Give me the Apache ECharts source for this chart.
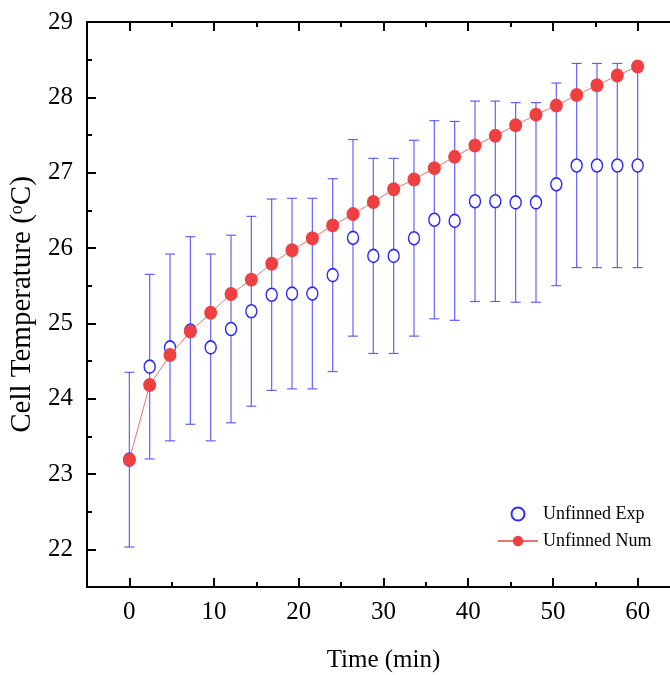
<!DOCTYPE html>
<html>
<head>
<meta charset="utf-8">
<script src="https://cdn.jsdelivr.net/npm/echarts@6/dist/echarts.min.js"></script>
<style>
html,body{margin:0;padding:0;background:#fff;}
#chart{width:670px;height:675px;}
</style>
</head>
<body>
<div id="chart"></div>
<script>
var time = [0, 2.4, 4.8, 7.2, 9.6, 12, 14.4, 16.8, 19.2, 21.6, 24, 26.4, 28.8, 31.2, 33.6, 36, 38.4, 40.8, 43.2, 45.6, 48, 50.4, 52.8, 55.2, 57.6, 60];
var numTemp = [23.19, 24.18, 24.58, 24.89, 25.14, 25.39, 25.58, 25.79, 25.97, 26.13, 26.30, 26.45, 26.61, 26.78, 26.91, 27.06, 27.21, 27.36, 27.49, 27.63, 27.77, 27.89, 28.03, 28.16, 28.29, 28.41];
var expTemp = [23.19, 24.425, 24.68, 24.905, 24.68, 24.925, 25.16, 25.38, 25.395, 25.395, 25.64, 26.135, 25.895, 25.895, 26.13, 26.375, 26.36, 26.62, 26.62, 26.605, 26.605, 26.845, 27.095, 27.095, 27.095, 27.095];
var expErr = [1.16, 1.225, 1.24, 1.245, 1.24, 1.245, 1.26, 1.27, 1.265, 1.265, 1.28, 1.305, 1.295, 1.295, 1.30, 1.315, 1.32, 1.33, 1.33, 1.325, 1.325, 1.345, 1.355, 1.355, 1.355, 1.355];
var xMajorTicks = [0, 10, 20, 30, 40, 50, 60];
var xMinorTicks = [-5, 5, 15, 25, 35, 45, 55, 65];
var yMajorTicks = [22, 23, 24, 25, 26, 27, 28, 29];
var yMinorTicks = [21.5, 22.5, 23.5, 24.5, 25.5, 26.5, 27.5, 28.5];

var FONT = '"Liberation Serif", "Times New Roman", serif';
var chart = echarts.init(document.getElementById('chart'), null, {renderer: 'canvas'});

var expData = time.map(function (t, i) { return [t, expTemp[i]]; });
var numData = time.map(function (t, i) { return [t, numTemp[i]]; });
var errData = time.map(function (t, i) { return [t, expTemp[i] - expErr[i], expTemp[i] + expErr[i]]; });

function xAxisDef(pos, ticks, len, showLine, showLabel, name) {
  return {
    type: 'value', position: pos, min: -5, max: 65, gridIndex: 0,
    name: name || '', nameLocation: 'middle', nameGap: 61,
    nameTextStyle: {fontFamily: FONT, fontSize: 25, color: '#000'},
    axisLine: {show: showLine, onZero: false, lineStyle: {color: '#000', width: 2}},
    axisTick: {show: true, inside: true, length: len, customValues: ticks, lineStyle: {color: '#000', width: 2}},
    axisLabel: {show: showLabel, customValues: ticks, margin: 13, fontFamily: FONT, fontSize: 25, color: '#000'},
    splitLine: {show: false}
  };
}
function yAxisDef(pos, ticks, len, showLine, showLabel, name) {
  return {
    type: 'value', position: pos, min: 21.5, max: 29, gridIndex: 0,
    name: name || '', nameLocation: 'middle', nameGap: 47,
    nameRotate: 90,
    nameTextStyle: {fontFamily: FONT, fontSize: 29, color: '#000',
      rich: {sup: {fontFamily: FONT, fontSize: 18, color: '#000', verticalAlign: 'top', padding: [0, 0, 11, 0]}}},
    axisLine: {show: showLine, onZero: false, lineStyle: {color: '#000', width: 2}},
    axisTick: {show: true, inside: true, length: len, customValues: ticks, lineStyle: {color: '#000', width: 2}},
    axisLabel: {show: showLabel, customValues: ticks, margin: 14, fontFamily: FONT, fontSize: 25, color: '#000'},
    splitLine: {show: false}
  };
}

var option = {
  backgroundColor: '#fff',
  animation: false,
  grid: {left: 87, top: 22, width: 593, height: 565, containLabel: false, outerBoundsMode: 'none'},
  legend: {
    orient: 'vertical', left: 497, top: 505, padding: 0, itemWidth: 40, itemHeight: 13, itemGap: 9,
    textStyle: {fontFamily: FONT, fontSize: 18, color: '#000'},
    data: ['Unfinned Exp', 'Unfinned Num']
  },
  xAxis: [
    xAxisDef('bottom', xMajorTicks, 9, true, true, 'Time (min)'),
    xAxisDef('bottom', xMinorTicks, 5, false, false),
    xAxisDef('top', xMajorTicks, 9, true, false),
    xAxisDef('top', xMinorTicks, 5, false, false)
  ],
  yAxis: [
    yAxisDef('left', yMajorTicks, 9, true, true, 'Cell Temperature ({sup|o}C)'),
    yAxisDef('left', yMinorTicks, 5, false, false),
    yAxisDef('right', yMajorTicks, 9, true, false),
    yAxisDef('right', yMinorTicks, 5, false, false)
  ],
  series: [
    {
      type: 'custom', name: 'err', xAxisIndex: 0, yAxisIndex: 0, z: 1,
      data: errData,
      renderItem: function (params, api) {
        var x = api.value(0);
        var lo = api.coord([x, api.value(1)]);
        var hi = api.coord([x, api.value(2)]);
        var cw = 5;
        var style = {stroke: 'rgba(70,70,255,0.85)', lineWidth: 1.2, fill: null};
        return {
          type: 'group',
          children: [
            {type: 'line', shape: {x1: lo[0], y1: lo[1], x2: hi[0], y2: hi[1]}, style: style},
            {type: 'line', shape: {x1: lo[0] - cw, y1: lo[1], x2: lo[0] + cw, y2: lo[1]}, style: style},
            {type: 'line', shape: {x1: hi[0] - cw, y1: hi[1], x2: hi[0] + cw, y2: hi[1]}, style: style}
          ]
        };
      }
    },
    {
      type: 'scatter', name: 'Unfinned Exp', xAxisIndex: 0, yAxisIndex: 0, z: 2,
      data: expData, symbol: 'circle', symbolSize: [11, 13],
      itemStyle: {color: '#fff', borderColor: '#2a2aff', borderWidth: 1.5, opacity: 1}
    },
    {
      type: 'line', name: 'Unfinned Num', xAxisIndex: 0, yAxisIndex: 0, z: 3,
      data: numData, symbol: 'circle', symbolSize: [13, 14], showAllSymbol: true,
      lineStyle: {color: '#f27070', width: 1},
      itemStyle: {color: '#ee4040', borderWidth: 0}
    }
  ]
};
chart.setOption(option);
</script>
</body>
</html>
